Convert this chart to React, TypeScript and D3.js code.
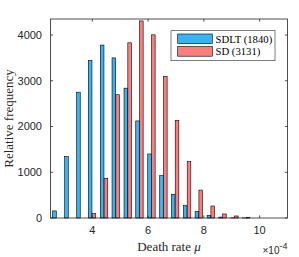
import React from "react";
import * as d3 from "d3";

// bin centres (x 1e-4) and counts
const binCenters = [2.71, 3.14, 3.57, 3.99, 4.42, 4.84, 5.27, 5.69, 6.12, 6.55, 6.97, 7.4, 7.82, 8.25, 8.67, 9.1, 9.52];
const sdlt = [155, 1342, 2750, 3440, 3780, 3500, 2838, 2122, 1400, 926, 518, 270, 138, 58, 20, 5, 2];
const sd = [0, 0, 0, 95, 865, 2695, 3830, 4308, 4004, 3097, 2130, 1232, 610, 263, 88, 44, 15];
const xTicks = [4, 6, 8, 10];
const yTicks = [0, 1000, 2000, 3000, 4000];
const seriesNames = ["SDLT (1840)", "SD (3131)"];
const seriesColors = ["#38b4f2", "#fd7d7d"];

const W = 299;
const H = 257;
const box = { left: 50.5, right: 287.5, top: 19, bottom: 218 };
const axisColor = "#262626";
const sans = "Liberation Sans, Arial, sans-serif";
const serif = "Liberation Serif, DejaVu Serif, serif";

export default function App() {
  const x = d3.scaleLinear().domain([2.5, 11]).range([box.left, box.right]);
  const y = d3.scaleLinear().domain([0, 4350]).range([box.bottom, box.top]);

  const barW = 0.13;
  const offset = 0.068;
  const tick = 2.6;

  const series = [sdlt, sd];

  return (
    <svg width={W} height={H} style={{ position: "absolute", left: 0, top: 0, background: "#fff" }}>
      {/* bars */}
      {series.map((vals, s) => (
        <g key={s} fill={seriesColors[s]} stroke="#000" strokeWidth={0.6}>
          {vals.map((v, i) =>
            v > 0 ? (
              <rect
                key={i}
                x={x(binCenters[i] + (s === 0 ? -offset : offset) - barW / 2)}
                y={y(v)}
                width={x(barW) - x(0)}
                height={y(0) - y(v)}
              />
            ) : null
          )}
        </g>
      ))}

      {/* frame */}
      <rect
        x={box.left}
        y={box.top}
        width={box.right - box.left}
        height={box.bottom - box.top}
        fill="none"
        stroke={axisColor}
        strokeWidth={0.8}
      />

      {/* x ticks */}
      {xTicks.map((t) => (
        <g key={t} stroke={axisColor} strokeWidth={0.8}>
          <line x1={x(t)} x2={x(t)} y1={box.bottom} y2={box.bottom - tick} />
          <line x1={x(t)} x2={x(t)} y1={box.top} y2={box.top + tick} />
        </g>
      ))}
      {xTicks.map((t) => (
        <text key={t} x={x(t)} y={234} textAnchor="middle" style={{ fontFamily: sans }} fontSize={11} fill={axisColor}>
          {t}
        </text>
      ))}

      {/* y ticks */}
      {yTicks.map((t) => (
        <g key={t} stroke={axisColor} strokeWidth={0.8}>
          <line x1={box.left} x2={box.left + tick} y1={y(t)} y2={y(t)} />
          <line x1={box.right} x2={box.right - tick} y1={y(t)} y2={y(t)} />
        </g>
      ))}
      {yTicks.map((t) => (
        <text key={t} x={42} y={y(t)} dy="0.35em" textAnchor="end" style={{ fontFamily: sans }} fontSize={11} fill={axisColor}>
          {t}
        </text>
      ))}

      {/* axis labels */}
      <text x={(box.left + box.right) / 2} y={251} textAnchor="middle" style={{ fontFamily: serif }} fontSize={13} fill={axisColor}>
        Death rate <tspan fontStyle="italic">μ</tspan>
      </text>
      <text
        transform={`translate(13,${(box.top + box.bottom) / 2}) rotate(-90)`}
        textAnchor="middle"
        style={{ fontFamily: serif }}
        fontSize={13}
        fill={axisColor}
      >
        Relative frequency
      </text>
      <text x={box.right} y={254} textAnchor="end" style={{ fontFamily: sans }} fontSize={10} fill={axisColor}>
        ×10<tspan dy={-5} fontSize={9}>-4</tspan>
      </text>

      {/* legend */}
      <rect x={171} y={30.7} width={104} height={30} fill="#fff" stroke={axisColor} strokeWidth={0.6} />
      {seriesNames.map((name, i) => (
        <g key={name}>
          <rect
            x={177.7}
            y={34 + i * 12.6}
            width={34.6}
            height={9.6}
            fill={seriesColors[i]}
            stroke="#000"
            strokeWidth={0.6}
          />
          <text x={215.5} y={38.8 + i * 12.6} dy="0.35em" style={{ fontFamily: serif }} fontSize={10.7} fill="#000">
            {name}
          </text>
        </g>
      ))}
    </svg>
  );
}
